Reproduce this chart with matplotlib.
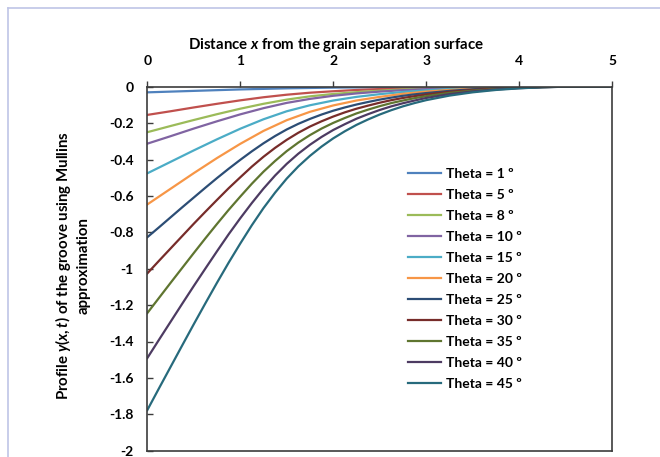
import matplotlib
matplotlib.use("Agg")
import matplotlib.pyplot as plt
from matplotlib.lines import Line2D

plt.rcParams["font.family"] = ["Lato", "DejaVu Sans"]
plt.rcParams["mathtext.fontset"] = "custom"
plt.rcParams["mathtext.it"] = "Lato:italic:bold"
plt.rcParams["mathtext.rm"] = "Lato:bold"
plt.rcParams["mathtext.bf"] = "Lato:bold"

# Distance from the grain separation surface (coarse and fine sampling)
x_coarse = [0, 0.25, 0.5, 0.75, 1.0, 1.25, 1.5, 1.75, 2.0, 2.25, 2.5,
            2.75, 3.0, 3.25, 3.5, 3.75, 4.0, 4.25, 4.5, 5.0]
x_fine = [0, 0.125, 0.25, 0.375, 0.5, 0.625, 0.75, 0.875, 1.0, 1.125, 1.25,
          1.375, 1.5, 1.625, 1.75, 1.875, 2.0, 2.125, 2.25, 2.375, 2.5,
          2.625, 2.75, 2.875, 3.0, 3.25, 3.5, 3.75, 4.0, 4.25, 4.5, 5.0]

theta_deg = [1, 5, 8, 10, 15, 20, 25, 30, 35, 40, 45]

# Groove profile y(x,t) for each dihedral angle
y_theta_1 = [-0.031, -0.027, -0.023, -0.019, -0.015, -0.012, -0.009, -0.007, -0.005, -0.004,
             -0.003, -0.002, -0.001, -0.001, -0.001, 0.0, 0.0, 0.0, 0.0, 0.0]
y_theta_5 = [-0.155, -0.135, -0.114, -0.094, -0.075, -0.058, -0.044, -0.033, -0.025, -0.018,
             -0.013, -0.009, -0.006, -0.004, -0.003, -0.002, -0.001, 0.0, 0.0, 0.0]
y_theta_8 = [-0.250, -0.216, -0.183, -0.151, -0.121, -0.094, -0.071, -0.053, -0.040, -0.030,
             -0.022, -0.015, -0.010, -0.007, -0.004, -0.003, -0.001, 0.0, 0.0, 0.0]
y_theta_10 = [-0.313, -0.272, -0.230, -0.190, -0.152, -0.118, -0.089, -0.067, -0.050, -0.037,
              -0.027, -0.019, -0.013, -0.009, -0.005, -0.003, -0.002, -0.001, 0.0, 0.0]
y_theta_15 = [-0.476, -0.413, -0.350, -0.289, -0.231, -0.179, -0.135, -0.102, -0.076, -0.056,
              -0.041, -0.029, -0.020, -0.013, -0.008, -0.005, -0.002, -0.001, 0.0, 0.0]
y_theta_20 = [-0.647, -0.561, -0.475, -0.392, -0.314, -0.243, -0.184, -0.138, -0.103, -0.076,
              -0.056, -0.039, -0.027, -0.018, -0.011, -0.007, -0.003, -0.001, 0.0, 0.0]
y_theta_25 = [-0.827, -0.773, -0.718, -0.663, -0.609, -0.555, -0.502, -0.451, -0.402, -0.355,
              -0.311, -0.271, -0.235, -0.204, -0.177, -0.153, -0.132, -0.114, -0.098, -0.084,
              -0.071, -0.060, -0.050, -0.042, -0.035, -0.023, -0.014, -0.008, -0.004, -0.001,
              0.0, 0.0]
y_theta_30 = [-1.026, -0.957, -0.889, -0.821, -0.753, -0.687, -0.622, -0.558, -0.498, -0.439,
              -0.385, -0.336, -0.292, -0.253, -0.219, -0.190, -0.164, -0.141, -0.121, -0.104,
              -0.088, -0.074, -0.062, -0.052, -0.043, -0.028, -0.018, -0.010, -0.005, -0.002,
              0.0, 0.0]
y_theta_35 = [-1.244, -1.161, -1.078, -0.996, -0.914, -0.833, -0.754, -0.677, -0.604, -0.533,
              -0.467, -0.408, -0.354, -0.307, -0.266, -0.230, -0.199, -0.172, -0.147, -0.126,
              -0.107, -0.090, -0.076, -0.063, -0.052, -0.034, -0.022, -0.013, -0.006, -0.002,
              0.0, 0.0]
y_theta_40 = [-1.491, -1.391, -1.292, -1.193, -1.095, -0.999, -0.904, -0.811, -0.723, -0.639,
              -0.560, -0.488, -0.424, -0.368, -0.319, -0.276, -0.238, -0.206, -0.176, -0.151,
              -0.128, -0.108, -0.091, -0.076, -0.062, -0.041, -0.026, -0.015, -0.008, -0.003,
              0.0, 0.0]
y_theta_45 = [-1.777, -1.658, -1.540, -1.422, -1.305, -1.190, -1.077, -0.967, -0.862, -0.761,
              -0.667, -0.582, -0.505, -0.438, -0.380, -0.329, -0.284, -0.245, -0.210, -0.180,
              -0.153, -0.129, -0.108, -0.090, -0.074, -0.049, -0.031, -0.018, -0.009, -0.003,
              0.0, 0.0]

x_ticks = [0, 1, 2, 3, 4, 5]
x_tick_labels = ["0", "1", "2", "3", "4", "5"]
y_ticks = [0, -0.2, -0.4, -0.6, -0.8, -1.0, -1.2, -1.4, -1.6, -1.8, -2.0]
y_tick_labels = ["0", "-0.2", "-0.4", "-0.6", "-0.8", "-1", "-1.2", "-1.4",
                 "-1.6", "-1.8", "-2"]

profiles = [(x_coarse, y_theta_1), (x_coarse, y_theta_5), (x_coarse, y_theta_8),
            (x_coarse, y_theta_10), (x_coarse, y_theta_15), (x_coarse, y_theta_20),
            (x_fine, y_theta_25), (x_fine, y_theta_30), (x_fine, y_theta_35),
            (x_fine, y_theta_40), (x_fine, y_theta_45)]
colors = ["#4F81BD", "#C0504D", "#9BBB59", "#8064A2", "#4BACC6", "#F79646",
          "#2C4D75", "#772C2A", "#5F7530", "#4D3B62", "#276A7C"]

W, H = 660, 457
fig = plt.figure(figsize=(W / 100, H / 100), dpi=100)
fig.patch.set_facecolor("white")

# chart-area border (left and top edges)
border_col = "#BFC5E6"
fig.add_artist(Line2D([7.5 / W, 7.5 / W], [0, 1 - 7.5 / H], transform=fig.transFigure,
                      color=border_col, lw=1.2))
fig.add_artist(Line2D([7.5 / W, 1], [1 - 7.5 / H, 1 - 7.5 / H], transform=fig.transFigure,
                      color=border_col, lw=1.2))

left, right, top, bottom = 147.3, 612.0, 86.7, 450.7
ax = fig.add_axes([left / W, 1 - bottom / H, (right - left) / W, (bottom - top) / H])

for (xs, ys), th, col in zip(profiles, theta_deg, colors):
    ax.plot(xs, ys, color=col, lw=1.6, label=f"Theta = {th} º",
            solid_joinstyle="round")

ax.set_xlim(0, 5)
ax.set_ylim(-2, 0)
ax.xaxis.tick_top()
ax.set_xticks(x_ticks)
ax.set_xticklabels(x_tick_labels)
ax.set_yticks(y_ticks)
ax.set_yticklabels(y_tick_labels)

spine_col = "#3C3C3C"
for sp in ax.spines.values():
    sp.set_color(spine_col)
    sp.set_linewidth(1.2)

ax.tick_params(axis="x", direction="out", length=4, width=1, color=spine_col,
               pad=10, labelsize=10, top=True, bottom=False)
ax.tick_params(axis="y", direction="in", length=4, width=1, color=spine_col,
               pad=10, labelsize=10, left=True, right=False)
for lbl in ax.get_xticklabels() + ax.get_yticklabels():
    lbl.set_fontweight("bold")
    lbl.set_color("black")

ax.text((336 - left) / (right - left), (bottom - 44.5) / (bottom - top),
        r"Distance $\mathit{x}$ from the grain separation surface",
        transform=ax.transAxes, ha="center", va="center", fontsize=10.8,
        fontweight="bold")

fig.text(63.5 / W, 1 - 265 / H, r"Profile $\mathit{y(x,t)}$ of the groove using Mullins",
         rotation=90, ha="center", va="center", fontsize=10.8, fontweight="bold")
fig.text(84 / W, 1 - 266 / H, "approximation",
         rotation=90, ha="center", va="center", fontsize=10.8, fontweight="bold")

leg = ax.legend(loc="upper left",
                bbox_to_anchor=((408 - left) / (right - left), (bottom - 168) / (bottom - top)),
                frameon=False, handlelength=2.4, handletextpad=0.3, labelspacing=0.65,
                borderpad=0, borderaxespad=0, prop={"weight": "bold", "size": 10})

fig.savefig("out.png", dpi=100, facecolor="white")
